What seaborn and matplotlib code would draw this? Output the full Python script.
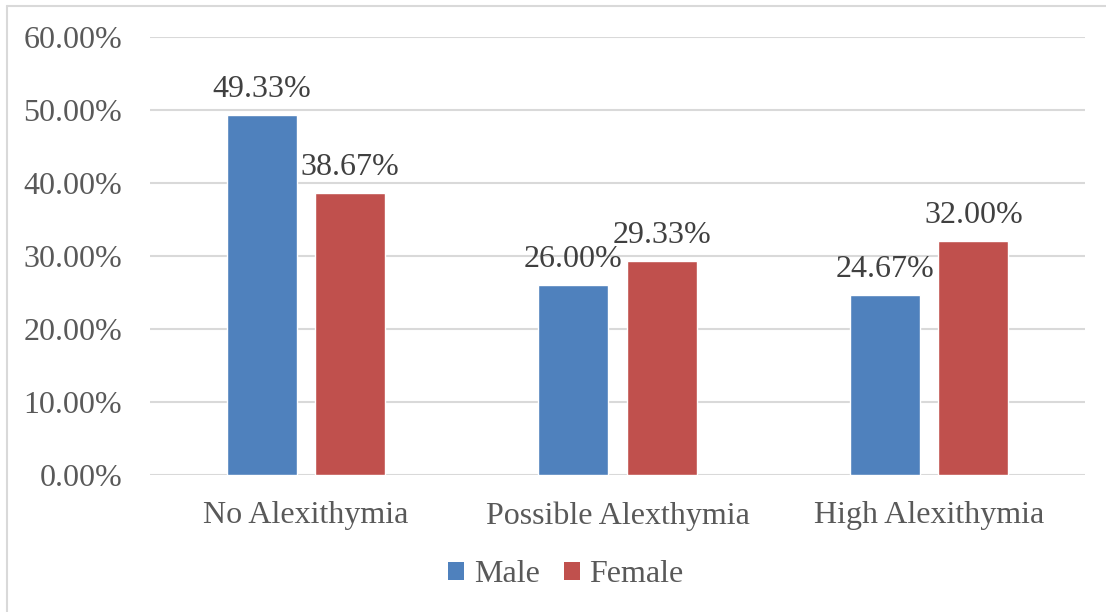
import matplotlib
matplotlib.use("Agg")
import matplotlib.pyplot as plt
from matplotlib.lines import Line2D
from matplotlib.patches import Patch
import seaborn as sns
import pandas as pd

categories = ["No Alexithymia", "Possible Alexthymia", "High Alexithymia"]
groups = ["Male", "Female"]
male_values = [49.33, 26.00, 24.67]
female_values = [38.67, 29.33, 32.00]
y_ticks = [0, 10, 20, 30, 40, 50, 60]

colors = {"Male": "#4F81BD", "Female": "#C0504D"}
grid_color = "#D9D9D9"
tick_color = "#595959"
label_color = "#404040"

df = pd.DataFrame({
    "Category": categories * 2,
    "Group": ["Male"] * len(categories) + ["Female"] * len(categories),
    "Value": male_values + female_values,
})

sns.set_theme(style="white")
plt.rcParams["font.family"] = ["Liberation Serif", "DejaVu Serif"]

fig = plt.figure(figsize=(11.06, 6.12), dpi=100)
ax = fig.add_axes([150 / 1106, 1 - 475 / 612, 935 / 1106, (475 - 37) / 612])

sns.barplot(data=df, x="Category", y="Value", hue="Group", order=categories,
            hue_order=groups, palette=colors, width=0.568, gap=0.21,
            saturation=1, legend=False, ax=ax)

ax.set_xlim(-0.5, len(categories) - 0.5)
ax.set_ylim(0, 60)
ax.set_yticks(y_ticks)
ax.set_yticklabels([f"{v:.2f}%" for v in y_ticks])
ax.set_xlabel("")
ax.set_ylabel("")
ax.yaxis.grid(True, color=grid_color, linewidth=1.5)
ax.set_axisbelow(True)
for side in ["top", "right", "left", "bottom"]:
    ax.spines[side].set_visible(False)
ax.tick_params(axis="y", length=0, pad=20, labelsize=23, labelcolor=tick_color)
ax.tick_params(axis="x", length=0, pad=19, labelsize=23, labelcolor=tick_color)

for container in ax.containers:
    for bar in container:
        h = bar.get_height()
        ax.annotate(f"{h:.2f}%", (bar.get_x() + bar.get_width() / 2, h),
                    xytext=(0, 13), textcoords="offset points",
                    ha="center", va="baseline", fontsize=23, color=label_color)

handles = [Patch(facecolor=colors[g], edgecolor="none") for g in groups]
fig.legend(handles, groups, loc="center", bbox_to_anchor=(566 / 1106, 1 - 575 / 612),
           ncol=2, frameon=False, fontsize=23, handlelength=0.5, handleheight=0.5,
           handletextpad=0.3, columnspacing=0.75, labelcolor=tick_color)

# light outer frame on the left and top edges
fig.add_artist(Line2D([7 / 1106, 7 / 1106], [0, 1 - 6 / 612], transform=fig.transFigure,
                      color=grid_color, linewidth=1.5))
fig.add_artist(Line2D([7 / 1106, 1], [1 - 6 / 612, 1 - 6 / 612], transform=fig.transFigure,
                      color=grid_color, linewidth=1.5))

fig.savefig("out.png", dpi=100, facecolor="white")
